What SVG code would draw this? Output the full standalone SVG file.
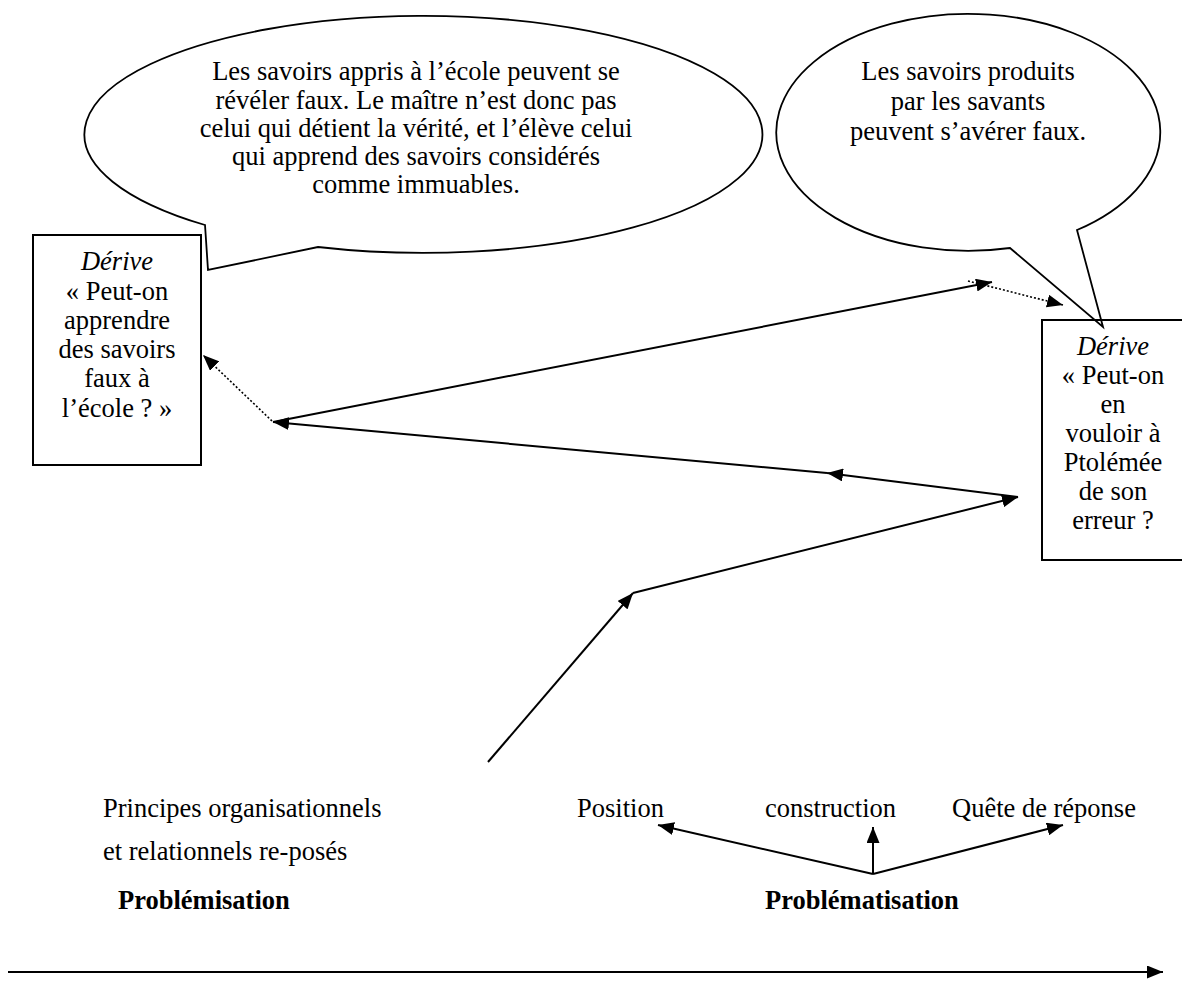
<svg xmlns="http://www.w3.org/2000/svg" width="1182" height="981" viewBox="0 0 1182 981">
<style>
.t{font-family:"Liberation Serif","Times New Roman",serif;font-size:26.5px;fill:#000}
.c{text-anchor:middle}
.i{font-style:italic}
.b{font-weight:bold}
.shape{fill:#fff;stroke:#000;stroke-width:1.8}
.box{fill:none;stroke:#000;stroke-width:2}
.ln{fill:none;stroke:#000;stroke-width:2;marker-end:url(#ah)}
.dot{fill:none;stroke:#000;stroke-width:1.6;stroke-dasharray:2 2;marker-end:url(#ah)}
</style>
<defs>
<marker id="ah" markerUnits="userSpaceOnUse" viewBox="0 0 16 13" refX="16" refY="6.5" markerWidth="16" markerHeight="13" orient="auto">
<path d="M0,0 L16,6.5 L0,13 Z" fill="#000"/>
</marker>
</defs>
<rect width="1182" height="981" fill="#fff"/>

<g id="bubble-left">
<path class="shape" d="M318,247 A339,118.5 0 1 0 205,225 L208,270 Z"/>
<text class="t c" x="416" y="80">Les savoirs appris à l’école peuvent se</text>
<text class="t c" x="416" y="108.5">révéler faux. Le maître n’est donc pas</text>
<text class="t c" x="416" y="137">celui qui détient la vérité, et l’élève celui</text>
<text class="t c" x="416" y="165">qui apprend des savoirs considérés</text>
<text class="t c" x="416" y="193">comme immuables.</text>
</g>

<g id="bubble-right">
<path class="shape" d="M1077,230 A192,118.5 0 1 0 1010,248 L1103,327 Z"/>
<text class="t c" x="968" y="80">Les savoirs produits</text>
<text class="t c" x="968" y="110">par les savants</text>
<text class="t c" x="968" y="140">peuvent s’avérer faux.</text>
</g>

<g id="box-left">
<rect class="box" x="33" y="235" width="168" height="230"/>
<text class="t c i" x="117" y="270">Dérive</text>
<text class="t c" x="117" y="299.5">« Peut-on</text>
<text class="t c" x="117" y="328.5">apprendre</text>
<text class="t c" x="117" y="358">des savoirs</text>
<text class="t c" x="117" y="387">faux à</text>
<text class="t c" x="117" y="416.5">l’école ? »</text>
</g>

<g id="box-right">
<rect class="box" x="1042" y="320" width="142" height="240"/>
<text class="t c i" x="1113" y="355">Dérive</text>
<text class="t c" x="1113" y="384">« Peut-on</text>
<text class="t c" x="1113" y="413">en</text>
<text class="t c" x="1113" y="442">vouloir à</text>
<text class="t c" x="1113" y="471">Ptolémée</text>
<text class="t c" x="1113" y="500">de son</text>
<text class="t c" x="1113" y="529">erreur ?</text>
</g>

<g id="label-problemisation">
<text class="t" x="103" y="817">Principes organisationnels</text>
<text class="t" x="103" y="860">et relationnels re-posés</text>
<text class="t b" x="118" y="909">Problémisation</text>
</g>

<g id="label-problematisation">
<text class="t" x="577" y="817">Position</text>
<text class="t" x="765" y="817">construction</text>
<text class="t" x="952" y="817">Quête de réponse</text>
<text class="t b" x="765" y="909">Problématisation</text>
</g>

<g id="connectors">
<line class="ln" x1="488" y1="762" x2="633" y2="593"/>
<line class="ln" x1="633" y1="593" x2="1018" y2="497"/>
<line class="ln" x1="1018" y1="497" x2="827" y2="473"/>
<line class="ln" x1="827" y1="473" x2="273" y2="422"/>
<line class="ln" x1="273" y1="422" x2="992" y2="282"/>
<line class="dot" x1="968" y1="281" x2="1063" y2="305"/>
<line class="dot" x1="272" y1="421" x2="203" y2="355"/>
<line class="ln" x1="873" y1="874" x2="658" y2="825"/>
<line class="ln" x1="873" y1="874" x2="873" y2="827"/>
<line class="ln" x1="873" y1="874" x2="1063" y2="825"/>
<line class="ln" x1="8" y1="972" x2="1163" y2="972"/>
</g>
</svg>
